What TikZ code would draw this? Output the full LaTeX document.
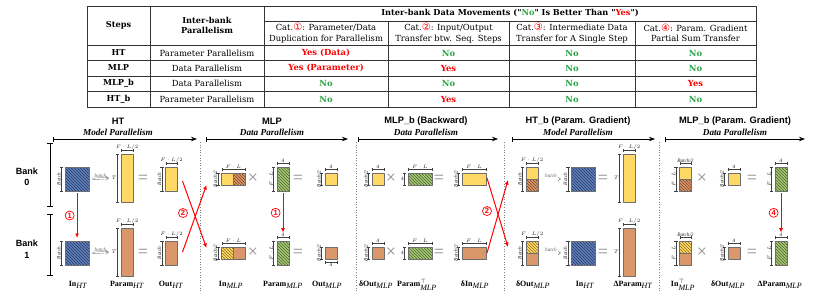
\documentclass[tikz,border=0pt]{standalone}
\usepackage{fontspec}
\setmainfont{Liberation Serif}
\setsansfont{Liberation Sans}
\newfontfamily\tabfont{DejaVu Serif}
\newfontfamily\symfont{DejaVu Sans}
\usetikzlibrary{arrows.meta,patterns,positioning}

\definecolor{yelc}{RGB}{255,217,102}
\definecolor{orgc}{RGB}{218,152,106}
\definecolor{bluec}{RGB}{96,128,184}
\definecolor{blued}{RGB}{38,58,104}
\definecolor{greenc}{RGB}{170,200,120}
\definecolor{greend}{RGB}{70,100,40}
\definecolor{orgd}{RGB}{125,70,35}
\definecolor{yeld}{RGB}{140,110,30}
\definecolor{yesred}{RGB}{255,0,0}
\definecolor{nogreen}{RGB}{40,165,70}
\definecolor{bordc}{RGB}{110,110,110}

% table entries
\newcommand{\yescell}[1]{\textcolor{yesred}{\bfseries Yes#1}}
\newcommand{\nocell}{\textcolor{nogreen}{\bfseries No}}
\newcommand{\catnum}[1]{{\symfont\fontsize{10}{10}\selectfont\textcolor{yesred}{#1}}}
% block labels
\newcommand{\lsub}[1]{$_{\textit{#1}}$}
% dimension marks: name, from, to, label
\newcommand{\dimL}[4]{\draw[dimln] ([xshift=-3.5pt]#2) -- ([xshift=-3.5pt]#3) node[dimtx, midway, anchor=south, rotate=90] (#1) {#4};}
\newcommand{\dimLu}[4]{\draw[dimln] ([xshift=-3.5pt]#2) -- ([xshift=-3.5pt]#3) node[dimtx, midway, anchor=east] (#1) {#4};}
\newcommand{\dimT}[4]{\draw[dimln] ([yshift=3.5pt]#2) -- ([yshift=3.5pt]#3) node[dimtx, midway, anchor=south] (#1) {#4};}
\newcommand{\dimB}[4]{\draw[dimln] ([yshift=-3.5pt]#2) -- ([yshift=-3.5pt]#3) node[dimtx, midway, anchor=north] (#1) {#4};}

\begin{document}
\begin{tikzpicture}[x=1pt, y=-1pt, line join=round,
  tabln/.style={black!80, line width=0.8pt},
  hd/.style={font=\tabfont\bfseries\fontsize{8.2}{10.5}\selectfont, align=center, inner sep=0pt},
  cell/.style={font=\tabfont\fontsize{8.4}{10.5}\selectfont, align=center, inner sep=0pt},
  blk/.style={draw=bordc, line width=0.7pt, inner sep=0pt, outer sep=0pt},
  yel/.style={fill=yelc}, org/.style={fill=orgc},
  yelh/.style={preaction={fill=yelc}, pattern=north west lines, pattern color=yeld},
  orgh/.style={preaction={fill=orgc}, pattern=north west lines, pattern color=orgd},
  blueh/.style={preaction={fill=bluec}, pattern=north west lines, pattern color=blued},
  greenh/.style={preaction={fill=greenc}, pattern=north west lines, pattern color=greend},
  own0/.style={yel}, own1/.style={org},
  pa0/.style={yel}, pa1/.style={yelh},
  pb0/.style={orgh}, pb1/.style={org},
  sq12/.style={minimum width=12pt, minimum height=12pt},
  sq24/.style={minimum width=24pt, minimum height=24pt},
  col24/.style={minimum width=12pt, minimum height=24pt},
  col48/.style={minimum width=12pt, minimum height=48pt},
  row24/.style={minimum width=24pt, minimum height=12pt},
  dimln/.style={black!75, line width=0.45pt, {Bar[width=3.5pt]}-{Bar[width=3.5pt]}},
  dimtx/.style={font=\fontsize{5.2}{5.5}\selectfont\itshape, inner sep=0.5pt, text=black!85},
  optx/.style={font=\fontsize{18}{18}\selectfont, text=black!45, inner sep=0pt},
  batcharr/.style={black!55, double, double distance=1.1pt, line width=0.4pt, -{Implies}},
  redarr/.style={red, line width=1pt, -{Latex[length=4.5pt, width=4pt]}},
  numc/.style={circle, draw=red, line width=0.7pt, fill=white, text=red, font=\sffamily\bfseries\fontsize{7.5}{7.5}\selectfont, inner sep=0pt, minimum size=9pt},
  sepln/.style={black!50, dotted, line width=0.6pt},
  secarr/.style={line width=0.7pt, {Bar[width=5pt]}-{Stealth[length=6pt]}},
  ttl/.style={font=\sffamily\bfseries\fontsize{9.3}{10}\selectfont, inner sep=0pt},
  subttl/.style={font=\bfseries\itshape\fontsize{9.2}{10}\selectfont, inner sep=0pt},
  bnk/.style={font=\sffamily\bfseries\fontsize{9}{11.5}\selectfont, align=center},
  bankln/.style={line width=0.9pt, {Bar[width=6pt]}-{Bar[width=6pt]}},
  lbl/.style={font=\fontsize{8}{8.5}\selectfont, anchor=base, inner sep=0pt}]

  \useasboundingbox (0,0) rectangle (814,295);

  % Table grid
  \draw[tabln] (87,6) rectangle (756,107);
  \foreach \yy in {45,60,76,91} \draw[tabln] (87,\yy) -- (756,\yy);
  \draw[tabln] (264,21) -- (756,21);
  \foreach \xx in {150,264} \draw[tabln] (\xx,6) -- (\xx,107);
  \foreach \xx in {388,509,635} \draw[tabln] (\xx,21) -- (\xx,107);

  % Table header
  \node[hd] (h-steps) at (118.5,25.5) {Steps};
  \node[hd] (h-par) at (207,25.5) {Inter-bank\\Parallelism};
  \node[hd] (h-mov) at (510,13.5) {Inter-bank Data Movements ("\textcolor{nogreen}{No}" Is Better Than "\textcolor{yesred}{Yes}")};
  \node[cell] (h-c1) at (326,33) {Cat.\catnum{①}: Parameter/Data\\Duplication for Parallelism};
  \node[cell] (h-c2) at (448.5,33) {Cat.\catnum{②}: Input/Output\\Transfer btw. Seq. Steps};
  \node[cell] (h-c3) at (572,33) {Cat.\catnum{③}: Intermediate Data\\Transfer for A Single Step};
  \node[cell] (h-c4) at (695.5,33) {Cat.\catnum{④}: Param. Gradient\\Partial Sum Transfer};

  % Table rows
  \foreach \r/\yy/\st/\pp/\ca/\cb/\cc/\cd in {
    1/53/HT/Parameter/\yescell{ (Data)}/\nocell/\nocell/\nocell,
    2/68/MLP/Data/\yescell{ (Parameter)}/\yescell{}/\nocell/\nocell,
    3/83.5/MLP\_b/Data/\nocell/\nocell/\nocell/\yescell{},
    4/99/HT\_b/Parameter/\nocell/\yescell{}/\nocell/\nocell}{
    \node[hd] (tst\r) at (118.5,\yy) {\st};
    \node[cell] (tpar\r) at (207,\yy) {\pp{} Parallelism};
    \node[cell] (tca\r) at (326,\yy) {\ca};
    \node[cell] (tcb\r) at (448.5,\yy) {\cb};
    \node[cell] (tcc\r) at (572,\yy) {\cc};
    \node[cell] (tcd\r) at (695.5,\yy) {\cd};
  }

  % Section headers
  \foreach \n/\xa/\xb/\xt/\ti/\su in {ht/53/197/118/HT/Model,
    mlp/206/348/272/MLP/Data,
    mlpb/358/498/426/MLP\_b (Backward)/Data,
    htb/512/655/578/HT\_b (Param. Gradient)/Model,
    mlpg/665/805/735/MLP\_b (Param. Gradient)/Data}{
    \node[ttl] (t-\n) at (\xt,121.5) {\ti};
    \node[subttl] (s-\n) at (\xt,132.5) {\su{} Parallelism};
    \coordinate (\n-l) at (\xa,139);
    \coordinate (\n-r) at (\xb,139);
    \draw[secarr] (\n-l) -- (\n-r);
  }
  \foreach \xx in {200,356,504,659} \draw[sepln] (\xx,142) -- (\xx,291);

  % Banks
  \node[bnk] (bank0) at (27,177) {Bank\\0};
  \node[bnk] (bank1) at (27,249) {Bank\\1};
  \draw[bankln] (50,143) -- (50,207);
  \draw[bankln] (50,214) -- (50,276);

  % Blocks of both banks
  \foreach \b/\yc in {0/179,1/253}{
    % HT
    \node[blk, blueh, sq24] (inht\b) at (77,\yc) {};
    \node[blk, own\b, col48] (pht\b) at (127,\yc-1) {};
    \node[blk, own\b, col24] (oht\b) at (171.5,\yc) {};
    \node[optx] (eqa\b) at (143,\yc) {=};
    \dimL{inhtd\b}{inht\b.north west}{inht\b.south west}{Batch}
    \dimLu{phtd\b}{pht\b.north west}{pht\b.south west}{$T$}
    \dimT{phtt\b}{pht\b.north west}{pht\b.north east}{$F\cdot L/2$}
    \dimL{ohtd\b}{oht\b.north west}{oht\b.south west}{Batch}
    \dimT{ohtt\b}{oht\b.north west}{oht\b.north east}{$F\cdot L/2$}
    \draw[batcharr] ([xshift=3pt]inht\b.east) -- ([xshift=-2pt]phtd\b.west)
      node[dimtx, midway, above=0.5pt, text=black!60] (bta\b) {batch};
    % MLP
    \node[blk, pa\b, sq12] (inmlpa\b) at (227.5,\yc) {};
    \node[blk, pb\b, sq12] (inmlpb\b) at (239.5,\yc) {};
    \dimL{inmlpd\b}{inmlpa\b.north west}{inmlpa\b.south west}{Batch/2}
    \dimT{inmlpt\b}{inmlpa\b.north west}{inmlpb\b.north east}{$F\cdot L$}
    \node[optx] (xa\b) at (253,\yc) {×};
    \node[blk, greenh, col24] (pmlp\b) at (283,\yc) {};
    \dimL{pmlpd\b}{pmlp\b.north west}{pmlp\b.south west}{$F\cdot L$}
    \dimT{pmlpt\b}{pmlp\b.north west}{pmlp\b.north east}{\upshape 4}
    \node[optx] (eqb\b) at (298,\yc) {=};
    \node[blk, own\b, sq12] (omlp\b) at (331,\yc) {};
    \dimL{omlpd\b}{omlp\b.north west}{omlp\b.south west}{Batch/2}
    \ifnum\b=0
      \dimT{omlpt\b}{omlp\b.north west}{omlp\b.north east}{\upshape 4}
    \else
      \dimB{omlpt\b}{omlp\b.south west}{omlp\b.south east}{\upshape 4}
    \fi
    % MLP_b
    \node[blk, own\b, sq12] (doma\b) at (378,\yc) {};
    \dimL{domad\b}{doma\b.north west}{doma\b.south west}{Batch/2}
    \dimT{domat\b}{doma\b.north west}{doma\b.north east}{\upshape 4}
    \node[optx] (xb\b) at (391,\yc) {×};
    \node[blk, greenh, row24] (ptm\b) at (420,\yc) {};
    \dimLu{ptmd\b}{ptm\b.north west}{ptm\b.south west}{\upshape 4}
    \dimT{ptmt\b}{ptm\b.north west}{ptm\b.north east}{$F\cdot L$}
    \node[optx] (eqc\b) at (439,\yc) {=};
    \node[blk, own\b, row24] (dinm\b) at (474,\yc) {};
    \dimL{dinmd\b}{dinm\b.north west}{dinm\b.south west}{Batch/2}
    \dimT{dinmt\b}{dinm\b.north west}{dinm\b.north east}{$F\cdot L$}
    % HT_b
    \node[blk, pa\b, sq12] (dohta\b) at (532,\yc-6) {};
    \node[blk, pb\b, sq12] (dohtb\b) at (532,\yc+6) {};
    \dimL{dohtd\b}{dohta\b.north west}{dohtb\b.south west}{Batch}
    \dimT{dohtt\b}{dohta\b.north west}{dohta\b.north east}{$F\cdot L/2$}
    \node[blk, blueh, sq24] (inhtb\b) at (583.5,\yc) {};
    \dimL{inhtbd\b}{inhtb\b.north west}{inhtb\b.south west}{Batch}
    \draw[batcharr] ([xshift=3pt]dohta\b.south east) -- ([xshift=-2pt]inhtbd\b.north)
      node[dimtx, midway, above=0.5pt, text=black!60] (btb\b) {batch};
    \node[optx] (eqd\b) at (603,\yc) {=};
    \node[blk, own\b, col48] (dpht\b) at (629,\yc-1) {};
    \dimLu{dphtd\b}{dpht\b.north west}{dpht\b.south west}{$T$}
    \dimT{dphtt\b}{dpht\b.north west}{dpht\b.north east}{$F\cdot L/2$}
    % MLP_b param. gradient
    \node[blk, pa\b, sq12] (intma\b) at (685.5,\yc-6) {};
    \node[blk, pb\b, sq12] (intmb\b) at (685.5,\yc+6) {};
    \dimL{intmd\b}{intma\b.north west}{intmb\b.south west}{$F\cdot L$}
    \dimT{intmt\b}{intma\b.north west}{intma\b.north east}{Batch/2}
    \node[optx] (xc\b) at (702,\yc) {×};
    \node[blk, own\b, sq12] (domc\b) at (734,\yc) {};
    \dimL{domcd\b}{domc\b.north west}{domc\b.south west}{Batch/2}
    \dimT{domct\b}{domc\b.north west}{domc\b.north east}{\upshape 4}
    \node[optx] (eqe\b) at (752,\yc) {=};
    \node[blk, greenh, col24] (dpm\b) at (781,\yc) {};
    \dimL{dpmd\b}{dpm\b.north west}{dpm\b.south west}{$F\cdot L$}
    \dimT{dpmt\b}{dpm\b.north west}{dpm\b.north east}{\upshape 4}
  }

  % Inter-bank movements
  \draw[redarr] ([yshift=-2pt]inht0.south) -- ([yshift=3pt]inht1.north)
    node[numc, midway, left=2.5pt] (n1a) {1};
  \draw[redarr] ([yshift=-2pt]pmlp0.south) -- (pmlpt1.north)
    node[numc, midway, left=2.5pt] (n1b) {1};
  \draw[redarr] ([yshift=-2pt]dpm0.south) -- (dpmt1.north)
    node[numc, midway, left=2.5pt] (n4) {4};
  \draw[redarr] ([xshift=5pt,yshift=-2pt]oht0.east) -- ([xshift=-15pt,yshift=5pt]inmlpa1.west);
  \draw[redarr] ([xshift=5pt,yshift=1pt]oht1.east) -- ([xshift=-15pt,yshift=-6pt]inmlpa0.west);
  \node[numc] (n2a) at (183,213) {2};
  \draw[redarr] ([xshift=1pt,yshift=1pt]dinm0.east) -- ([xshift=-18pt]dohta1.west);
  \draw[redarr] ([xshift=1pt]dinm1.east) -- ([xshift=-18pt,yshift=5pt]dohtb0.west);
  \node[numc] (n2b) at (487,211) {2};

  % Block names
  \foreach \nm/\xx/\tx in {bl1/78/\textbf{In}\lsub{HT},
    bl2/127/\textbf{Param}\lsub{HT},
    bl3/171/\textbf{Out}\lsub{HT},
    bl4/231/\textbf{In}\lsub{MLP},
    bl5/283/\textbf{Param}\lsub{MLP},
    bl6/327/\textbf{Out}\lsub{MLP},
    bl7/376/\textbf{δOut}\lsub{MLP},
    bl8/417/\textbf{Param}$^{\top}_{\textit{MLP}}$,
    bl9/475/\textbf{δIn}\lsub{MLP},
    bl10/533/\textbf{δOut}\lsub{MLP},
    bl11/585/\textbf{In}\lsub{HT},
    bl12/633/\textbf{ΔParam}\lsub{HT},
    bl13/683/\textbf{In}$^{\top}_{\textit{MLP}}$,
    bl14/728/\textbf{δOut}\lsub{MLP},
    bl15/780/\textbf{ΔParam}\lsub{MLP}}{
    \node[lbl] (\nm) at (\xx,286) {\tx};
  }
\end{tikzpicture}
\end{document}
